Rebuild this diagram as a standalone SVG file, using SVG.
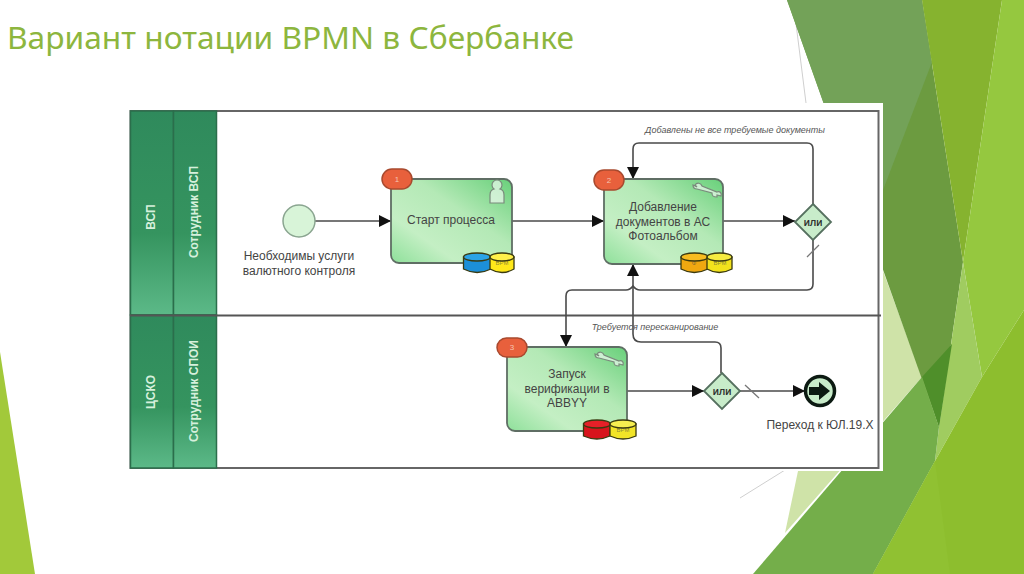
<svg xmlns="http://www.w3.org/2000/svg" width="1024" height="574" viewBox="0 0 1024 574">
<style>
.lbl{font-family:"Liberation Sans",Arial,sans-serif;font-size:12px;fill:#444;text-anchor:middle}
.note{font-family:"Liberation Sans",Arial,sans-serif;font-size:9px;font-style:italic;fill:#555;text-anchor:middle}
.hdr{font-family:"Liberation Sans",Arial,sans-serif;font-size:12px;font-weight:bold;fill:#d6f0dc;text-anchor:middle}
.badge{fill:#e8603c;stroke:#a8492e;stroke-width:1.5}
.badge-t{font-family:"Liberation Sans",Arial,sans-serif;font-size:8px;fill:#f6c4b0;text-anchor:middle}
.task{fill:url(#taskG);stroke:#5f6e64;stroke-width:1.8}
.gw{fill:#c8ecca;stroke:#55705f;stroke-width:1.8}
.gwt{font-family:"Liberation Sans",Arial,sans-serif;font-size:11px;fill:#222;stroke:#222;stroke-width:.2;text-anchor:middle}
.conn{fill:none;stroke:#4a4a4a;stroke-width:1.6}
.tick{fill:none;stroke:#777;stroke-width:1.3}
.icon{fill:#fff;fill-opacity:.6;stroke:#7a8a7c;stroke-width:1.2}
.db-t{font-family:"Liberation Sans",Arial,sans-serif;font-size:6px;fill-opacity:.6;fill:#444;text-anchor:middle}
.dbs{stroke:#3a3a10;stroke-width:1.3}
.hbar{fill:url(#hdrG);stroke:#2b6e4b;stroke-width:1.5}
</style>
<defs>
<linearGradient id="taskG" x1="0" y1="1" x2="1" y2="0"><stop offset="0" stop-color="#8ee09a"/><stop offset=".28" stop-color="#c4efc4"/><stop offset=".6" stop-color="#b4e9b6"/><stop offset="1" stop-color="#68d07a"/></linearGradient>
<linearGradient id="hdrG" x1="0" y1="0" x2="0" y2="1"><stop offset="0" stop-color="#2f8a5c"/><stop offset=".6" stop-color="#35945f"/><stop offset="1" stop-color="#5cb988"/></linearGradient>
<marker id="arr" viewBox="0 0 12 12" refX="12" refY="6" markerWidth="12" markerHeight="12" markerUnits="userSpaceOnUse" orient="auto"><path d="M0 0L12 6L0 12Z" fill="#111"/></marker>
<path id="wrench" d="M-12 -6C-10 -9 -6 -8 -5 -5L10 1C13 0 15 2 14 5L10 4L10 6C6 6 5 5 5 2L-10 -2C-13 -2 -14 -4 -14 -6L-10 -4Z"/>
</defs>

<g id="background">
<rect width="1024" height="574" fill="#fff"/>
<path d="M0 352L35 574H0Z" fill="#a2c93a"/>
<path d="M793 0L806 103M883 405L925 375M740 498L785 470" stroke="#cfcfcf" stroke-width="1" fill="none"/>
<path d="M883 271L922 377L785 533L798 471Z" fill="#cfe3a8"/>
<path d="M787 0H922L963 262L939 427Z" fill="#6c9b40"/>
<path d="M787 0H922L932 62L883 190L850 178Z" fill="#73a258"/>
<path d="M922 0H1002L963 262Z" fill="#86b32f"/>
<path d="M1002 0H1024V310L982 377L963 262Z" fill="#95c83f"/>
<path d="M963 262L982 377L935 461L939 427Z" fill="#a0cc60"/>
<path d="M922 377L952 344L939 427Z" fill="#4f8f2a"/>
<path d="M922 377L939 427L935 461L873 574H753Z" fill="#74ae4a"/>
<path d="M1024 310V574H873L935 461L982 377Z" fill="#8dbe2e"/>
<path d="M935 461L950 574H873Z" fill="#90c132"/>
</g>

<g id="pool">
<rect x="124" y="103" width="759" height="368" fill="#fff"/>
<rect x="130.500" y="111" width="748" height="357" fill="#fff" stroke="#666" stroke-width="2"/>
<rect class="hbar" x="130.500" y="111" width="43" height="204"/>
<rect class="hbar" x="173.500" y="111" width="43" height="204"/>
<rect class="hbar" x="130.500" y="315" width="43" height="153"/>
<rect class="hbar" x="173.500" y="315" width="43" height="153"/>
<path d="M130 315.500H881" stroke="#555" stroke-width="2"/>
<text class="hdr" transform="translate(155,217) rotate(-90)">ВСП</text>
<text class="hdr" transform="translate(198,212) rotate(-90)">Сотрудник ВСП</text>
<text class="hdr" transform="translate(155,392) rotate(-90)">ЦСКО</text>
<text class="hdr" transform="translate(198,391) rotate(-90)">Сотрудник СПОИ</text>
</g>

<g id="connectors">
<path class="conn" marker-end="url(#arr)" d="M315 221H391"/>
<path class="conn" marker-end="url(#arr)" d="M512 221H604"/>
<path class="conn" marker-end="url(#arr)" d="M723 221H795"/>
<path class="conn" marker-end="url(#arr)" d="M813 204V149Q813 143 807 143H639Q633 143 633 149V179"/>
<path class="conn" marker-end="url(#arr)" d="M813 240V284Q813 290 807 290H640Q636 290 633 286Q630 290 626 290H572Q566 290 566 296V347"/>
<path class="conn" marker-end="url(#arr)" d="M721 373V348Q721 342 715 342H641Q633 342 633 334V264"/>
<path class="conn" marker-end="url(#arr)" d="M627 391H704"/>
<path class="conn" marker-end="url(#arr)" d="M740 391H805"/>
<path class="tick" d="M807 257L819 245M745 385L759 398"/>
<text class="note" x="735" y="133">Добавлены не все требуемые документы</text>
<text class="note" x="655" y="330">Требуется пересканирование</text>
</g>

<g id="start">
<circle cx="299" cy="221" r="16" fill="#d8f4d8" stroke="#8aa590" stroke-width="1.5"/>
<text class="lbl" x="299" y="260">Необходимы услуги</text>
<text class="lbl" x="299" y="275">валютного контроля</text>
</g>

<g id="task1">
<rect class="task" x="391" y="179" width="121" height="84" rx="8"/>
<rect class="badge" x="382" y="169" width="30" height="20" rx="10"/>
<text class="badge-t" x="397" y="182">1</text>
<path class="icon" d="M490 203V195Q490 190 494 189A5 5 0 1 1 500 189Q504 190 504 195V203Z"/>
<text class="lbl" x="451" y="224">Старт процесса</text>
<g class="dbs">
<path d="M463.500 257V269Q477 276 491 269V257Z" fill="#1c8fd8"/><ellipse cx="477" cy="257" rx="13.500" ry="4" fill="#2ba3e6"/>
<path d="M490 257V269Q502 276 514 269V257Z" fill="#ffe81a"/><ellipse cx="502" cy="257" rx="12" ry="4" fill="#fff04a"/>
</g>
<text class="db-t" x="502" y="265">BPM</text>
</g>

<g id="task2">
<rect class="task" x="604" y="179" width="119" height="85" rx="8"/>
<rect class="badge" x="594" y="170" width="30" height="20" rx="10"/>
<text class="badge-t" x="609" y="183">2</text>
<use href="#wrench" class="icon" transform="translate(707,191)"/>
<text class="lbl" x="663" y="211">Добавление</text>
<text class="lbl" x="663" y="226">документов в АС</text>
<text class="lbl" x="663" y="240">Фотоальбом</text>
<g class="dbs">
<path d="M681 257V269Q694 276 708 269V257Z" fill="#f0a810"/><ellipse cx="694.500" cy="257" rx="13.500" ry="4" fill="#f8bc20"/>
<path d="M707 257V269Q719 276 732 269V257Z" fill="#f2e21c"/><ellipse cx="719.500" cy="257" rx="12.500" ry="4" fill="#f6ec40"/>
</g>
<text class="db-t" x="694" y="265">Ф</text>
<text class="db-t" x="720" y="265">BPM</text>
</g>

<g id="gateway1">
<path class="gw" d="M813 204L831 222L813 240L795 222Z"/>
<text class="gwt" x="813" y="226">или</text>
</g>

<g id="task3">
<rect class="task" x="507" y="347" width="120" height="84" rx="8"/>
<rect class="badge" x="497" y="338" width="30" height="19" rx="9.500"/>
<text class="badge-t" x="512" y="350">3</text>
<use href="#wrench" class="icon" transform="translate(609,360)"/>
<text class="lbl" x="567" y="378">Запуск</text>
<text class="lbl" x="567" y="393">верификации в</text>
<text class="lbl" x="567" y="407">ABBYY</text>
<g class="dbs">
<path d="M583.500 424V436Q597 442 610 436V424Z" fill="#d8141c"/><ellipse cx="597" cy="424" rx="13.500" ry="4" fill="#e62028"/>
<path d="M610 424V436Q623 442 636 436V424Z" fill="#f2e428"/><ellipse cx="623" cy="424" rx="13" ry="4" fill="#f6ee50"/>
</g>
<text class="db-t" x="623" y="432">BPM</text>
</g>

<g id="gateway2">
<path class="gw" d="M722 373L740 391L722 409L704 391Z"/>
<text class="gwt" x="722" y="395">или</text>
</g>

<g id="end">
<circle cx="820" cy="391" r="14.500" fill="#c8ecca" stroke="#0c1a12" stroke-width="3.500"/>
<path d="M809 387H819V382L830 391L819 400V395H809Z" fill="#0c1a12"/>
<text class="lbl" x="820" y="429">Переход к ЮЛ.19.Х</text>
</g>

<text id="title" x="7" y="49" font-family="'Noto Sans','Open Sans',sans-serif" font-size="31.700" fill="#8db63e">Вариант нотации BPMN в Сбербанке</text>
</svg>
